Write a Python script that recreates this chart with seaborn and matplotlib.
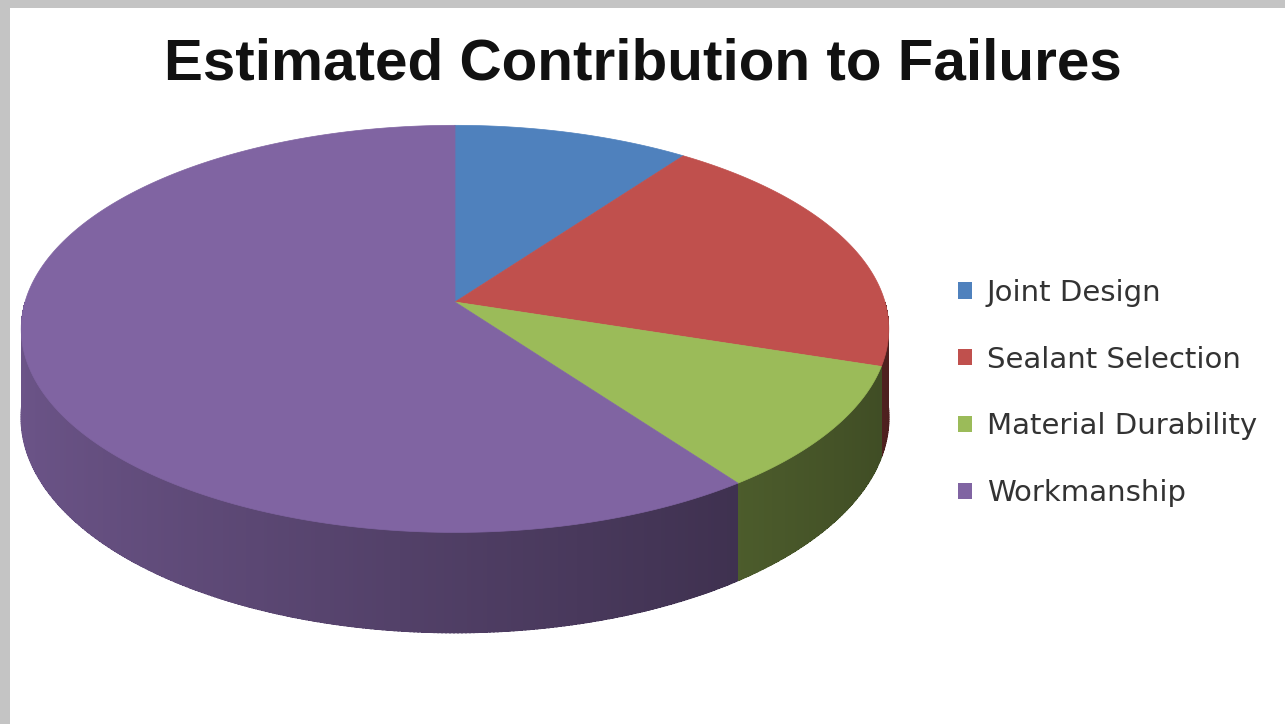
"""Recreate the 'Estimated Contribution to Failures' 3D pie chart."""

import matplotlib

matplotlib.use("Agg")

import matplotlib.pyplot as plt
from matplotlib.collections import LineCollection
from matplotlib.patches import Polygon, Rectangle
import numpy as np
import seaborn as sns

CATEGORIES = ["Joint Design", "Sealant Selection", "Material Durability", "Workmanship"]
SHARES = [10, 20, 10, 60]
COLORS = ["#4F81BD", "#C0504D", "#9BBB59", "#8064A2"]
TITLE = "Estimated Contribution to Failures"

# projection of the pie disk (pixel space, y down)
CX, CY = 455, 302
RX, RY = 430, 200
PERSP = 0.132
DEPTH = 87


def project(theta, drop=0.0):
    """Map clockwise-from-top angle on the unit disk to screen pixels."""
    u = np.sin(theta)
    v = np.cos(theta)
    w = 1.0 + PERSP * v
    return CX + RX * u / w, CY - RY * v / w + drop / w


def shade(color, theta):
    rgb = np.array(matplotlib.colors.to_rgb(color))
    factor = 0.62 + 0.22 * np.cos(theta - 1.5 * np.pi)
    return tuple(rgb * factor)


def main():
    sns.set_theme(style="white")
    plt.rcParams["font.family"] = ["Liberation Sans", "DejaVu Sans"]

    fig = plt.figure(figsize=(12.85, 7.24), dpi=100)
    fig.patch.set_facecolor("#c4c4c4")
    ax = fig.add_axes([0, 0, 1, 1])
    ax.set_xlim(0, 1285)
    ax.set_ylim(724, 0)
    ax.axis("off")
    ax.add_patch(Rectangle((10, 8), 1285, 724, facecolor="white", edgecolor="none", zorder=0))

    fractions = np.array(SHARES, dtype=float) / sum(SHARES)
    edges = np.concatenate([[0.0], np.cumsum(fractions)]) * 2 * np.pi

    # outer walls (front half only), shaded strip by strip
    for i, color in enumerate(COLORS):
        lo = max(edges[i], np.pi / 2)
        hi = min(edges[i + 1], 1.5 * np.pi)
        if hi <= lo:
            continue
        steps = np.linspace(lo, hi, max(int((hi - lo) / 0.008), 2))
        segs, seg_colors = [], []
        for a0, a1 in zip(steps[:-1], steps[1:]):
            a1x = min(a1 + 0.004, hi)
            xt0, yt0 = project(a0)
            xt1, yt1 = project(a1x)
            xb0, yb0 = project(a0, DEPTH)
            xb1, yb1 = project(a1x, DEPTH)
            c = shade(color, 0.5 * (a0 + a1))
            ax.add_patch(Polygon([(xt0, yt0), (xt1, yt1), (xb1, yb1), (xb0, yb0)],
                                 closed=True, facecolor=c, edgecolor="none",
                                 antialiased=False, zorder=1))
            segs.append([(xb0, yb0), (xb1, yb1)])
            seg_colors.append(c)
        ax.add_collection(LineCollection(segs, colors=seg_colors, linewidths=1.0, zorder=1))

    # top faces
    for i, (label, color) in enumerate(zip(CATEGORIES, COLORS)):
        arc = np.linspace(edges[i], edges[i + 1], 200)
        xs, ys = project(arc)
        pts = [(CX, CY)] + list(zip(xs, ys))
        ax.add_patch(Polygon(pts, closed=True, facecolor=color, edgecolor=color,
                             linewidth=0.5, zorder=2, label=label))

    ax.text(643, 80, TITLE, ha="center", va="baseline", fontsize=42, fontweight="bold",
            color="#111111")

    leg = ax.legend(loc="center left", bbox_to_anchor=(958 / 1285, 1 - 393 / 724),
                    frameon=False, borderpad=0, borderaxespad=0,
                    prop={"family": "DejaVu Sans", "size": 21},
                    handlelength=0.48, handleheight=0.48, handletextpad=0.5,
                    labelspacing=1.33, labelcolor="#333333")
    for h in leg.legend_handles:
        h.set_edgecolor("none")

    fig.savefig("out.png", dpi=100)


if __name__ == "__main__":
    main()
